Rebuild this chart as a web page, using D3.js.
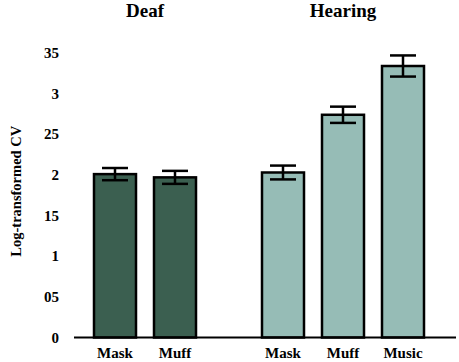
<!DOCTYPE html>
<html lang="en">
<head>
  <meta charset="UTF-8">
  <script src="https://cdn.jsdelivr.net/npm/d3@7"></script>
  <title>Log-transformed CV</title>
  <style>
    body { margin: 0; background: #fff; }
    text { font-family: 'Liberation Serif', 'Times New Roman', serif; font-weight: bold; fill: #000; }
  </style>
</head>
<body>
  <svg id="chart" width="459" height="362"></svg>
  <script>
    const groups = ["Deaf", "Hearing"];
    const deafConditions = ["Mask", "Muff"];
    const hearingConditions = ["Mask", "Muff", "Music"];
    const deafValues = [2.01, 1.97];
    const hearingValues = [2.03, 2.74, 3.34];
    const deafErrors = [0.075, 0.08];
    const hearingErrors = [0.085, 0.1, 0.13];
    const tickValues = [0, 0.5, 1, 1.5, 2, 2.5, 3, 3.5];
    const tickLabels = ["0", "05", "1", "15", "2", "25", "3", "35"];
    const groupColors = { Deaf: "#3b5f50", Hearing: "#96bcb6" };

    const bars = [];
    deafConditions.forEach((c, i) => bars.push({ group: "Deaf", cond: c, slot: i, value: deafValues[i], err: deafErrors[i] }));
    hearingConditions.forEach((c, i) => bars.push({ group: "Hearing", cond: c, slot: 2.8 + i, value: hearingValues[i], err: hearingErrors[i] }));

    const svg = d3.select("#chart");
    const baseY = 337.5;

    // slot positions -> bar centre
    const x = d3.scaleLinear().domain([0, 1]).range([115, 175]);
    const y = d3.scaleLinear().domain([0, 3.5]).range([baseY, 53]);
    const barW = 42;

    // tick labels (no vertical axis line)
    svg.selectAll("text.tick").data(tickValues).enter().append("text")
      .attr("class", "tick")
      .attr("x", 59)
      .attr("y", d => y(d) + 5)
      .attr("text-anchor", "end")
      .style("font-size", "15px")
      .text((d, i) => tickLabels[i]);

    svg.append("text")
      .attr("transform", `translate(21,${(y(0) + y(3.5)) / 2 - 4}) rotate(-90)`)
      .attr("text-anchor", "middle")
      .style("font-size", "14.5px")
      .text("Log-transformed CV");

    svg.selectAll("rect.bar").data(bars).enter().append("rect")
      .attr("class", "bar")
      .attr("x", d => x(d.slot) - barW / 2)
      .attr("width", barW)
      .attr("y", d => y(d.value))
      .attr("height", d => y(0) - y(d.value))
      .style("fill", d => groupColors[d.group])
      .style("stroke", "#000")
      .style("stroke-width", 2.5);

    // error bars
    const eb = svg.selectAll("g.err").data(bars).enter().append("g").attr("class", "err")
      .style("stroke", "#000").style("stroke-width", 2.5);
    eb.append("line")
      .attr("x1", d => x(d.slot)).attr("x2", d => x(d.slot))
      .attr("y1", d => y(d.value + d.err)).attr("y2", d => y(d.value - d.err));
    eb.append("line")
      .attr("x1", d => x(d.slot) - 13).attr("x2", d => x(d.slot) + 13)
      .attr("y1", d => y(d.value + d.err)).attr("y2", d => y(d.value + d.err));
    eb.append("line")
      .attr("x1", d => x(d.slot) - 13).attr("x2", d => x(d.slot) + 13)
      .attr("y1", d => y(d.value - d.err)).attr("y2", d => y(d.value - d.err));

    // baseline
    svg.append("line")
      .attr("x1", 74).attr("x2", 456)
      .attr("y1", y(0)).attr("y2", y(0))
      .style("stroke", "#000").style("stroke-width", 2);

    svg.selectAll("text.cond").data(bars).enter().append("text")
      .attr("class", "cond")
      .attr("x", d => x(d.slot))
      .attr("y", 358)
      .attr("text-anchor", "middle")
      .style("font-size", "15px")
      .text(d => d.cond);

    svg.selectAll("text.group").data(groups).enter().append("text")
      .attr("class", "group")
      .attr("x", g => d3.mean(bars.filter(b => b.group === g), b => x(b.slot)))
      .attr("y", 17)
      .attr("text-anchor", "middle")
      .style("font-size", "19px")
      .text(g => g);
  </script>
</body>
</html>
